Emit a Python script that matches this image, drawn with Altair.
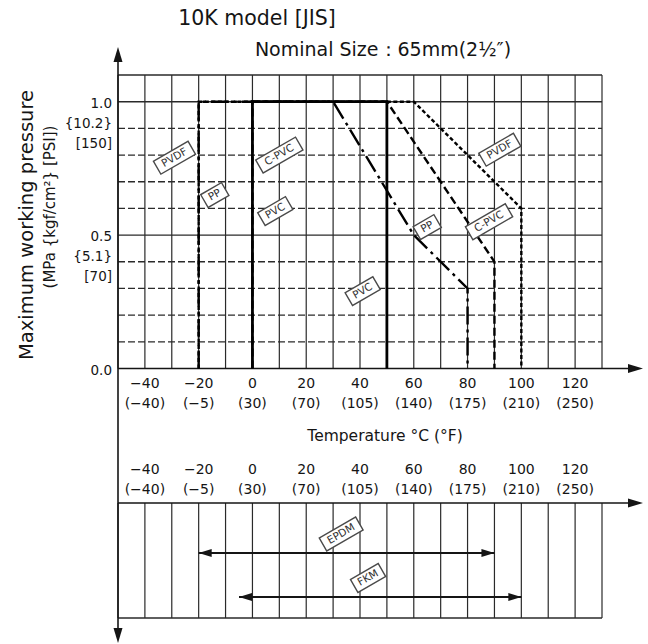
import altair as alt
import pandas as pd

# ---------------- data ----------------
MATERIALS = ["PVDF", "PP", "C-PVC", "PVC"]
PVC_TEMP = [0, 0, 50, 50]
PVC_PRES = [0.0, 1.0, 1.0, 0.0]
CPVC_TEMP = [0, 0, 50, 90, 90]
CPVC_PRES = [0.0, 1.0, 1.0, 0.4, 0.0]
PP_TEMP = [-20, -20, 30, 60, 80, 80]
PP_PRES = [0.0, 1.0, 1.0, 0.5, 0.3, 0.0]
PVDF_TEMP = [-20, -20, 60, 100, 100]
PVDF_PRES = [0.0, 1.0, 1.0, 0.6, 0.0]

LABEL_TEXT = ["PVDF", "PP", "C-PVC", "PVC", "PVC", "PP", "C-PVC", "PVDF"]
LABEL_TEMP = [-29, -14, 10, 8.5, 41, 65, 88, 92]
LABEL_PRES = [0.79, 0.65, 0.80, 0.59, 0.29, 0.53, 0.55, 0.82]

SEALS = ["EPDM", "FKM"]
SEAL_MIN = [-20, -5]
SEAL_MAX = [90, 100]
SEAL_LABEL_TEMP = [33, 43]

TEMP_TICKS_C = [-40, -20, 0, 20, 40, 60, 80, 100, 120]
TEMP_TICKS_F = [-40, -5, 30, 70, 105, 140, 175, 210, 250]
PRES_TICKS = [1.0, 0.5, 0.0]
PRES_TICK_TEXT = ["1.0\n{10.2}\n[150]", "0.5\n{5.1}\n[70]", "0.0"]

GRID_TEMPS = [-50, -40, -30, -20, -10, 0, 10, 20, 30, 40, 50, 60, 70, 80, 90, 100, 110, 120, 130]
GRID_PRES_DASHED = [0.1, 0.2, 0.3, 0.4, 0.6, 0.7, 0.8, 0.9]
GRID_PRES_SOLID = [0.5, 1.0, 1.1]

TITLE_1 = "10K model [JIS]"
TITLE_2 = "Nominal Size：65mm(2½″)"
X_TITLE = "Temperature °C (°F)"
Y_TITLE_1 = "Maximum working pressure"
Y_TITLE_2 = "(MPa {kgf/cm²} [PSI])"

# ---------------- styling ----------------
FONT = "DejaVu Sans"
INK = "#151515"
GRID = "#2a2a2a"

X_SCALE = alt.Scale(domain=[-50, 130], range=[118, 602], nice=False, zero=False)
YU_SCALE = alt.Scale(domain=[0, 1.1], range=[368.5, 75], nice=False, zero=False)
YL_SCALE = alt.Scale(domain=[0, 1], range=[618, 503], nice=False, zero=False)
YS_SCALE = alt.Scale(type="point", domain=SEALS, range=[553, 597], padding=0)


def X(f):
    return alt.X(f, type="quantitative", scale=X_SCALE, axis=None)


def YU(f):
    return alt.Y(f, type="quantitative", scale=YU_SCALE, axis=None)


def YL(f):
    return alt.Y(f, type="quantitative", scale=YL_SCALE, axis=None)


def fmt(v):
    return str(v).replace("-", "\u2212")


# ---------------- tables ----------------
curve_rows = []
for name, ts, ps in [("PVDF", PVDF_TEMP, PVDF_PRES), ("PP", PP_TEMP, PP_PRES),
                     ("C-PVC", CPVC_TEMP, CPVC_PRES), ("PVC", PVC_TEMP, PVC_PRES)]:
    for i, (t, p) in enumerate(zip(ts, ps)):
        curve_rows.append({"material": name, "i": i, "t": t, "p": p})
curves = pd.DataFrame(curve_rows)

labels_df = pd.DataFrame({"label": LABEL_TEXT, "t": LABEL_TEMP, "p": LABEL_PRES})
seal_df = pd.DataFrame({"seal": SEALS, "tmin": SEAL_MIN, "tmax": SEAL_MAX,
                        "tl": SEAL_LABEL_TEMP, "label": SEALS})

vgrid_u = pd.DataFrame({"t": GRID_TEMPS, "p0": 0.0, "p1": 1.1})
hgrid_d = pd.DataFrame({"p": GRID_PRES_DASHED, "t0": -50, "t1": 130})
hgrid_s = pd.DataFrame({"p": GRID_PRES_SOLID, "t0": -50, "t1": 130})
vgrid_l = pd.DataFrame({"t": GRID_TEMPS, "l0": 0.0, "l1": 1.0})
xticks = pd.DataFrame({"t": TEMP_TICKS_C,
                       "txt": [f"{fmt(c)}\n({fmt(f)})" for c, f in zip(TEMP_TICKS_C, TEMP_TICKS_F)],
                       "p": 0.0, "l": 1.0})
yticks = pd.DataFrame({"p": PRES_TICKS, "txt": PRES_TICK_TEXT, "t": -50})
axis_pts = pd.DataFrame({"t": [-50], "p": [0.0], "l": [1.0], "l0": [0.0], "t1": [130]})

# box shapes (rectangles of different widths, same height)
BOX_NAMES = ["PVDF", "PP", "C-PVC", "PVC", "EPDM", "FKM"]
BOX_HALF_W = [20, 12, 23, 16, 21, 16]
R = 24.0
BOX_PATHS = [f"M{-w/R:.3f},-0.31L{w/R:.3f},-0.31L{w/R:.3f},0.31L{-w/R:.3f},0.31Z" for w in BOX_HALF_W]
SHAPE = alt.Shape("label:N", scale=alt.Scale(domain=BOX_NAMES, range=BOX_PATHS), legend=None)

ARROW_UP = "M0,0L-0.3,1L0.3,1Z"
ARROW_DOWN = "M0,0L-0.3,-1L0.3,-1Z"
ARROW_RIGHT = "M0,0L-1,-0.3L-1,0.3Z"
ARROW_LEFT = "M0,0L1,-0.3L1,0.3Z"

layers = []

# upper grid
layers.append(alt.Chart(vgrid_u).mark_rule(color=GRID, strokeWidth=1.2).encode(
    x=X("t"), y=YU("p0"), y2="p1"))
layers.append(alt.Chart(hgrid_d).mark_rule(color=GRID, strokeWidth=1.3, strokeDash=[7, 3]).encode(
    x=X("t0"), x2="t1", y=YU("p")))
layers.append(alt.Chart(hgrid_s).mark_rule(color=GRID, strokeWidth=1.4).encode(
    x=X("t0"), x2="t1", y=YU("p")))

# lower grid
layers.append(alt.Chart(vgrid_l).mark_rule(color=GRID, strokeWidth=1.2).encode(
    x=X("t"), y=YL("l0"), y2="l1"))
layers.append(alt.Chart(axis_pts).mark_rule(color=GRID, strokeWidth=1.4).encode(
    x=X("t"), x2="t1", y=YL("l0")))

# axes lines
layers.append(alt.Chart(axis_pts).mark_rule(color=INK, strokeWidth=1.6).encode(
    x=X("t"), y=alt.value(58), y2=alt.value(632)))
layers.append(alt.Chart(axis_pts).mark_rule(color=INK, strokeWidth=1.6).encode(
    x=X("t"), x2=alt.value(632), y=YU("p")))
layers.append(alt.Chart(axis_pts).mark_rule(color=INK, strokeWidth=1.6).encode(
    x=X("t"), x2=alt.value(632), y=YL("l")))

# axis arrowheads
arrow_kw = dict(filled=True, color=INK, opacity=1, size=900)
layers.append(alt.Chart(axis_pts).mark_point(shape=ARROW_UP, **arrow_kw).encode(
    x=X("t"), y=alt.value(47)))
layers.append(alt.Chart(axis_pts).mark_point(shape=ARROW_DOWN, **arrow_kw).encode(
    x=X("t"), y=alt.value(643)))
layers.append(alt.Chart(axis_pts).mark_point(shape=ARROW_RIGHT, **arrow_kw).encode(
    x=alt.value(643), y=YU("p")))
layers.append(alt.Chart(axis_pts).mark_point(shape=ARROW_RIGHT, **arrow_kw).encode(
    x=alt.value(643), y=YL("l")))

# curves
styles = {
    "PVDF": dict(strokeDash=[4, 2.5], strokeWidth=2.4),
    "PP": dict(strokeDash=[18, 5, 3, 5], strokeWidth=2.4),
    "C-PVC": dict(strokeDash=[8, 4], strokeWidth=2.4),
    "PVC": dict(strokeWidth=2.8),
}
for m in MATERIALS:
    layers.append(alt.Chart(curves).transform_filter(alt.datum.material == m).mark_line(
        color="#000", strokeCap="butt", strokeJoin="miter", **styles[m]).encode(
        x=X("t"), y=YU("p"), order=alt.Order("i:Q")))

# seal ranges
layers.append(alt.Chart(seal_df).mark_rule(color=INK, strokeWidth=1.8).encode(
    x=X("tmin"), x2="tmax", y=alt.Y("seal:N", scale=YS_SCALE, axis=None)))
seal_arrow_kw = dict(filled=True, color=INK, opacity=1, size=676)
layers.append(alt.Chart(seal_df).mark_point(shape=ARROW_LEFT, **seal_arrow_kw).encode(
    x=X("tmin"), y=alt.Y("seal:N", scale=YS_SCALE, axis=None)))
layers.append(alt.Chart(seal_df).mark_point(shape=ARROW_RIGHT, **seal_arrow_kw).encode(
    x=X("tmax"), y=alt.Y("seal:N", scale=YS_SCALE, axis=None)))

# label boxes
box_kw = dict(filled=True, fill="white", stroke="#4a4a4a", strokeWidth=1.4, opacity=1,
              size=int((2 * R) ** 2), angle=330)
txt_kw = dict(angle=330, fontSize=10.5, font=FONT, color="#333", align="center", baseline="middle")
layers.append(alt.Chart(labels_df).mark_point(**box_kw).encode(x=X("t"), y=YU("p"), shape=SHAPE))
layers.append(alt.Chart(labels_df).mark_text(**txt_kw).encode(x=X("t"), y=YU("p"), text="label:N"))
layers.append(alt.Chart(seal_df).mark_point(yOffset=-19, **box_kw).encode(
    x=X("tl"), y=alt.Y("seal:N", scale=YS_SCALE, axis=None), shape=SHAPE))
layers.append(alt.Chart(seal_df).mark_text(yOffset=-19, **txt_kw).encode(
    x=X("tl"), y=alt.Y("seal:N", scale=YS_SCALE, axis=None), text="label:N"))

# tick labels
tick_kw = dict(font=FONT, fontSize=14, color=INK, lineBreak="\n", lineHeight=20,
               align="center", baseline="top")
layers.append(alt.Chart(xticks).mark_text(dy=8, **tick_kw).encode(
    x=X("t"), y=YU("p"), text="txt:N"))
layers.append(alt.Chart(xticks).mark_text(dy=-40, **tick_kw).encode(
    x=X("t"), y=YL("l"), text="txt:N"))
layers.append(alt.Chart(yticks).mark_text(font=FONT, fontSize=13.5, color=INK, lineBreak="\n",
                                          lineHeight=20, align="right", baseline="top",
                                          dx=-6, dy=-5).encode(
    x=X("t"), y=YU("p"), text="txt:N"))

# titles
def free_text(s, x, y, size, angle=0):
    return alt.Chart(pd.DataFrame({"s": [s]})).mark_text(
        font=FONT, fontSize=size, color=INK, align="center", baseline="middle",
        angle=angle).encode(x=alt.value(x), y=alt.value(y), text="s:N")

layers.append(free_text(TITLE_1, 257, 19, 20.5))
layers.append(free_text(TITLE_2, 383, 50, 19))
layers.append(free_text(X_TITLE, 385, 436, 15.5))
layers.append(free_text(Y_TITLE_1, 27, 225, 19.5, angle=270))
layers.append(free_text(Y_TITLE_2, 50, 207, 15, angle=270))

chart = alt.layer(*layers).resolve_scale(y="independent").properties(
    width=648, height=644, padding=0,
    autosize=alt.AutoSizeParams(type="none"),
    background="white",
).configure_view(stroke=None)

chart.save("out.html", embed_options={"renderer": "svg", "actions": False})
